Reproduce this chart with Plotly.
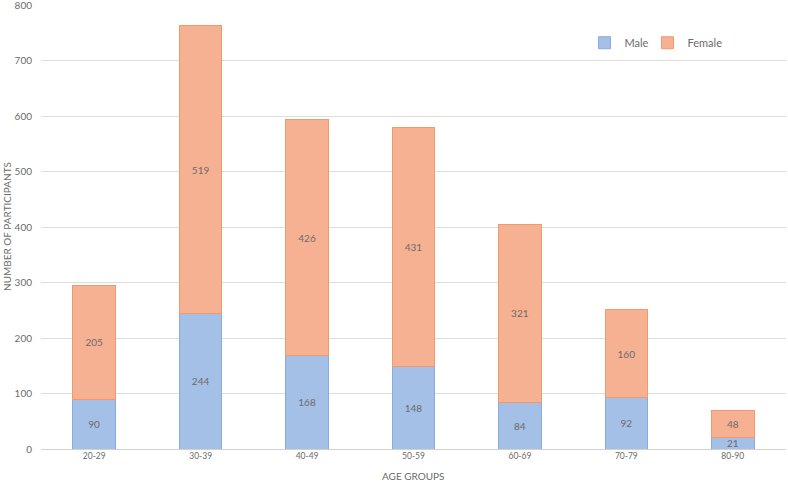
import plotly.graph_objects as go

age_groups = ["20-29", "30-39", "40-49", "50-59", "60-69", "70-79", "80-90"]
male = [90, 244, 168, 148, 84, 92, 21]
female = [205, 519, 426, 431, 321, 160, 48]
y_ticks = [0, 100, 200, 300, 400, 500, 600, 700, 800]

FONT = "Lato, 'Open Sans', sans-serif"
GRAY = "#6b6b6b"

fig = go.Figure()
fig.add_trace(go.Bar(
    name="Male", x=age_groups, y=male, text=male, legend="legend",
    textposition="inside", insidetextanchor="middle", constraintext="none", textangle=0,
    textfont=dict(size=10, color=GRAY, family=FONT),
    marker=dict(color="#a5c0e6", line=dict(color="#86abdf", width=1)),
))
fig.add_trace(go.Bar(
    name="Female", x=age_groups, y=female, text=female, legend="legend2",
    textposition="inside", insidetextanchor="middle", constraintext="none", textangle=0,
    textfont=dict(size=10, color=GRAY, family=FONT),
    marker=dict(color="#f6b193", line=dict(color="#f29a6c", width=1)),
))

legend_common = dict(orientation="h", y=0.915, xanchor="left", yanchor="middle",
                     font=dict(size=11, color=GRAY), bgcolor="rgba(0,0,0,0)")

fig.update_layout(
    barmode="stack", bargap=0.6,
    width=788, height=481,
    margin=dict(l=41, r=2, t=5, b=32, autoexpand=False),
    plot_bgcolor="white", paper_bgcolor="white",
    font=dict(family=FONT, color=GRAY, size=10),
    showlegend=True,
    legend=dict(x=0.7295, **legend_common),
    legend2=dict(x=0.8141, **legend_common),
    xaxis=dict(
        tickfont=dict(size=8.5, color=GRAY), showgrid=False,
        showline=False, ticks="", automargin=False,
    ),
    yaxis=dict(
        range=[0, 800.5], tickvals=y_ticks, tickfont=dict(size=10, color=GRAY),
        showgrid=True, gridcolor="#dedede", gridwidth=1,
        zeroline=True, zerolinecolor="#d0d0d0", zerolinewidth=1,
        ticks="", ticklabelstandoff=8, automargin=False,
        ticklabeloverflow="allow",
    ),
    annotations=[
        dict(text="AGE GROUPS", xref="paper", yref="paper", x=0.5, y=0, yshift=-27,
             xanchor="center", yanchor="middle", showarrow=False,
             font=dict(size=10, color=GRAY)),
        dict(text="NUMBER OF PARTICIPANTS", xref="paper", yref="paper", x=0, y=0.5,
             xshift=-34, xanchor="center", yanchor="middle", textangle=-90,
             showarrow=False, font=dict(size=10, color=GRAY)),
    ],
)

fig.write_html(
    "out.html",
    config={"displayModeBar": False},
    post_script="document.body.style.margin='0';document.body.style.padding='0';",
)
